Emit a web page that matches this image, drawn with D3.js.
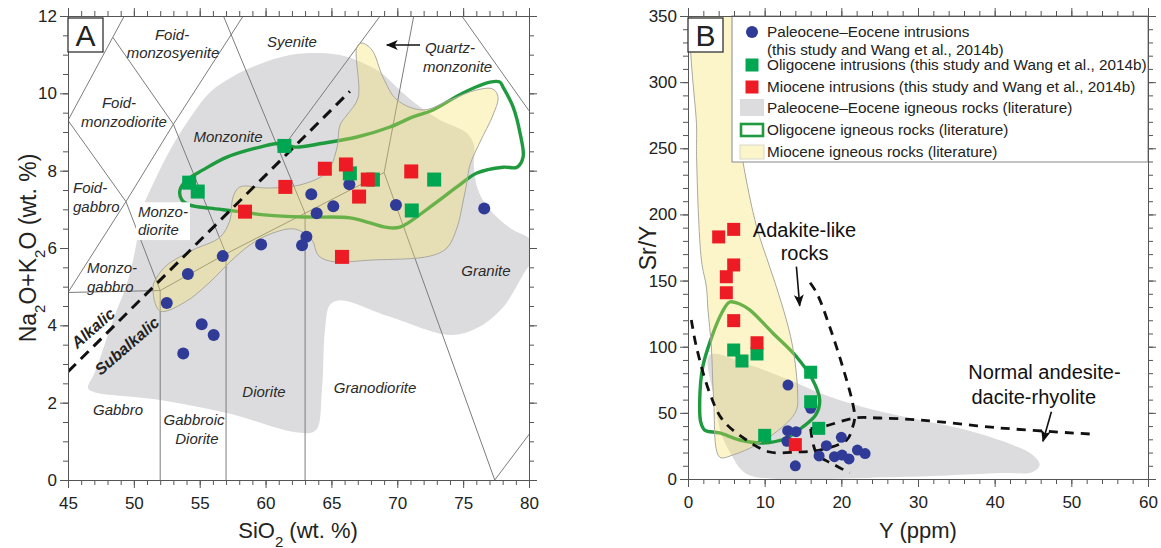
<!DOCTYPE html>
<html>
<head>
<meta charset="utf-8">
<script src="https://cdn.jsdelivr.net/npm/d3@7"></script>
<style>
body { margin: 0; background: #fff; }
svg { font-family: "Liberation Sans", Arial, sans-serif; }
</style>
</head>
<body>
<div id="chart"></div>
<script>
// ---------- panel A data (SiO2 vs Na2O+K2O, wt. %) ----------
var paleoA = [[52.5,4.58],[53.75,3.27],[54.1,5.33],[55.15,4.03],[56.06,3.75],[56.75,5.79],[59.66,6.09],
  [62.77,6.07],[63.1,6.29],[63.47,7.39],[63.88,6.9],[65.14,7.08],[66.36,7.65],[69.9,7.11],[76.6,7.02]]
var oligoA = [[54.2,7.69],[54.85,7.46],[61.43,8.64],[66.4,7.93],[68.15,7.77],[71.1,6.97],[72.8,7.77]]
var mioA = [[58.44,6.94],[61.5,7.58],[64.5,8.05],[65.8,5.77],[66.1,8.16],[67.1,7.33],[67.76,7.77],[71.06,7.98]]

// literature fields, panel A
var grayA = [[46.52,2.38],[47.05,2.79],[48.42,4.14],[49.56,5.17],[50.24,6.21],[50.47,6.85],[51.6,7.76],[52.74,8.53],
  [54.26,9.36],[55.78,10.03],[57.68,10.47],[59.58,10.76],[61.85,10.99],[64.13,11.04],[66.03,10.96],[67.55,10.76],
  [68.69,10.55],[70.43,10.01],[71.72,9.65],[73.24,9.31],[75.29,8.97],[75.82,8.66],[75.82,8.09],[76.13,7.5],
  [77.04,6.98],[78.56,6.52],[80,6.26],[80.45,6.08],[80.45,5.74],[79.77,5.43],[78.03,4.47],[76.05,3.93],[74.0,3.75],
  [69.45,4.22],[65.65,4.65],[64.89,4.53],[64.51,3.88],[64.28,2.33],[63.83,1.29],[62.61,1.22],[57.07,1.73],
  [51.98,2.07],[46.9,2.28]]
var yellowA = [[51.45,4.99],[51.76,5.25],[52.52,5.56],[54.49,5.95],[56.54,6.28],[57.3,6.72],[57.53,7.32],[58.06,7.58],
  [60.11,7.55],[62.61,7.63],[64.66,7.96],[65.42,8.59],[65.65,9.18],[66.18,9.44],[67.02,9.88],[66.94,11.2],[67.32,11.3],
  [68.08,11.12],[68.91,10.42],[69.98,9.83],[71.95,9.57],[74.0,9.83],[76.05,10.09],[77.27,10.11],[77.65,9.9],
  [77.27,9.44],[76.28,8.74],[75.52,8.15],[75.29,7.71],[74.99,7.19],[74.53,6.52],[73.77,6.0],[72.48,5.79],
  [68.16,5.69],[64.89,5.66],[63.98,5.82],[63.52,6.21],[62.23,6.49],[60.34,6.36],[58.82,6.08],[57.3,5.64],
  [55.78,5.12],[53.88,4.6],[51.98,4.37]]
var greenA = [[53.5,7.5],[53.65,7.24],[54.26,7.11],[55.78,7.03],[57.53,6.96],[60.11,6.85],[63.15,6.8],[66.41,6.78],
  [67.93,6.65],[69.07,6.54],[70.21,6.54],[72.48,7.06],[74.53,7.58],[76.05,7.94],[78.03,8.09],[79.09,8.09],
  [79.55,8.35],[79.32,8.97],[78.79,9.65],[78.03,10.16],[77.8,10.29],[77.04,10.29],[74.99,10.01],[72.71,9.57],
  [71.19,9.39],[69.45,9.13],[66.94,8.87],[64.36,8.71],[62.23,8.61],[61.1,8.71],[59.58,8.61],[57.07,8.35],
  [55.25,8.02],[54.03,7.76]]

// classification boundaries
var fieldLinesA = [
  [[52,0],[52,4.9]],
  [[57,0],[57,5.85]],
  [[63,0],[63,6.9]],
  [[45,4.85],[52,4.9],[57,5.85],[63,6.9],[69,7.95],[77.4,0],[81,1.63]],
  [[45,4.85],[49.4,7.2],[52,4.9]],
  [[45,9.3],[49.4,7.2],[53,9.2],[57,5.85]],
  [[45,9.3],[48.4,11.45],[49.27,12]],
  [[48.4,11.45],[53,9.2],[58.3,12]],
  [[63,6.9],[56.8,12]],
  [[61.1,8.5],[68.7,12]],
  [[69,7.95],[71.25,12]],
  [[74.9,12],[80,9.55]]
]
var alkalicLine = [[45,2.8],[66.4,10.05]]
var quartzArrow = [[71.73,11.25],[69.2,11.25]]

var fieldLabelsA = [
  ["Foid-",52.9,11.51,"middle"],["monzosyenite",52.97,11.04,"middle"],
  ["Syenite",62.0,11.33,"middle"],
  ["Quartz-",72.1,11.17,"start"],["monzonite",71.95,10.68,"start"],
  ["Foid-",48.87,9.75,"middle"],["monzodiorite",49.25,9.26,"middle"],
  ["Monzonite",57.15,8.87,"middle"],
  ["Foid-",45.38,7.55,"start"],["gabbro",45.38,7.06,"start"],
  ["Monzo-",50.31,6.93,"start"],["diorite",50.31,6.47,"start"],
  ["Monzo-",46.44,5.48,"start"],["gabbro",46.44,4.99,"start"],
  ["Gabbro",48.8,1.81,"middle"],
  ["Gabbroic",54.57,1.55,"middle"],["Diorite",54.79,1.06,"middle"],
  ["Diorite",59.88,2.28,"middle"],
  ["Granodiorite",68.31,2.38,"middle"],
  ["Granite",76.73,5.4,"middle"]
]
var seriesLabelsA = [["Alkalic",46.9,3.93],["Subalkalic",49.48,3.47]]

var xTicksA = [45,50,55,60,65,70,75,80]
var yTicksA = [0,2,4,6,8,10,12]

// ---------- panel B data (Y ppm vs Sr/Y) ----------
var paleoB = [[13.04,71],[16.0,53.4],[13.0,36.5],[14.1,35.8],[12.9,28.5],[14.0,10],[18.05,25.2],[20.0,31.5],
  [17.1,17.4],[19.1,16.9],[20.1,18.1],[21.0,15.2],[22.1,21.9],[23.1,19.2]]
var oligoB = [[5.96,97.5],[7.04,89.2],[9.0,94.5],[16.0,80.7],[16.0,58.4],[17.05,38.3],[10.0,33]]
var mioB = [[4.0,183],[5.96,188.7],[5.96,161.8],[5.0,152.9],[5.0,140.8],[5.96,119.7],[9.0,103],[14.0,26]]

var yellowB = [[1.1,360],[1.13,263.8],[1.13,241.1],[1.75,165.5],[2.4,145.1],[2.61,127.8],[3.05,99.8],[3.35,59.7],
  [4.13,16.6],[5.83,18.1],[9.35,27.2],[12.87,42.3],[14.15,52.2],[14.3,65],[13.66,99.8],[12.35,130],[10.66,160.3],
  [8.96,190.5],[7.13,241.1],[6.09,286.5],[5.2,360]]
var grayB = [[2.83,93.7],[8.05,86.2],[13.26,74.8],[17.18,65],[22.79,54.4],[30.22,44.6],[36.35,37],[42.35,25.7],
  [44.96,18.1],[45.87,10.6],[44.96,5.3],[40.66,4.5],[27.6,1.5],[8.31,2.3],[6.74,8.3],[5.83,16.6],[4.4,33.3],[3.48,59.7]]
var greenB = [[5.44,133.8],[6.74,132.3],[8.05,127.8],[11.05,110.4],[14.18,92.2],[16.27,74.8],[17.18,59.7],[16.66,48.4],
  [14.96,39.3],[12.87,31],[9.74,27.2],[6.74,29.5],[4.13,34.8],[2.18,37],[1.66,43.1],[1.53,59.7],[1.92,84.7],
  [3.09,107.3],[4.4,125.5]]

// discrimination fields (dashed)
var adakiteLine = [[0.44,120.2],[1.1,99.8],[2.83,65],[4.53,44.6],[7.62,29.5],[10.66,20.4],[14.18,20.4],[17.18,21.9],
  [20.7,29.5],[21.48,39.3],[21.74,46.1],[21.48,57.4],[20.18,84.7],[18.49,114.9],[16.79,140.6],[15.48,151.9]]
var adrUpper = [[16.0,38],[17.96,40.1],[21.74,46.1],[25,46.1],[30.22,44.6],[40.66,38.6],[52.4,34]]
var adrLower = [[16.0,38],[16.3,27],[16.92,18.1],[19.14,10.6],[21.09,4.5]]
var arrowsB = [[[14.14,160.5],[14.57,131]],[[47.4,50.9],[46.3,28.5]]]
var fieldLabelsB = [["Adakite-like",15.2,188.2],["rocks",15.2,170.8],
  ["Normal andesite-",46.5,80.9],["dacite-rhyolite",45.1,62]]

var xTicksB = [0,10,20,30,40,50,60]
var yTicksB = [0,50,100,150,200,250,300,350]

var legendItems = [
  ["circle", "Paleocene\u2013Eocene intrusions", "(this study and Wang et al., 2014b)"],
  ["green", "Oligocene intrusions (this study and Wang et al., 2014b)"],
  ["red", "Miocene intrusions (this study and Wang et al., 2014b)"],
  ["grayfield", "Paleocene\u2013Eocene igneous rocks (literature)"],
  ["greenfield", "Oligocene igneous rocks (literature)"],
  ["yellowfield", "Miocene igneous rocks (literature)"]
]

// ---------- styles ----------
var colBlue = "#2f3b96", colGreen = "#00a651", colRed = "#ed1c24"
var colGray = "#dcdcde", colYellow = "#f8e264", yellowOp = 0.34, colLine = "#1f9a3e"

width = 1161
height = 548
var svg = d3.select("#chart").append("svg").attr("width", width).attr("height", height)

var xA = d3.scaleLinear().domain([45, 80]).range([68, 529])
var yA = d3.scaleLinear().domain([0, 12]).range([480, 16])
var xB = d3.scaleLinear().domain([0, 60]).range([688, 1148])
var yB = d3.scaleLinear().domain([0, 350]).range([479, 16])

var defs = svg.append("defs")
function addClip(id, x, y) {
  defs.append("clipPath").attr("id", id).append("rect")
    .attr("x", x.range()[0]).attr("y", y.range()[1])
    .attr("width", x.range()[1] - x.range()[0]).attr("height", y.range()[0] - y.range()[1])
}
addClip("clipA", xA, yA)
addClip("clipB", xB, yB)
defs.append("marker").attr("id", "arrowhead").attr("viewBox", "0 0 12 10")
  .attr("refX", 11).attr("refY", 5).attr("markerWidth", 12).attr("markerHeight", 10)
  .attr("markerUnits", "userSpaceOnUse").attr("orient", "auto")
  .append("path").attr("d", "M0,0 L12,5 L0,10 L3,5 Z").attr("fill", "#111")

function closedPath(x, y) {
  return d3.line().x(d => x(d[0])).y(d => y(d[1])).curve(d3.curveCatmullRomClosed.alpha(0.5))
}
function openPath(x, y) {
  return d3.line().x(d => x(d[0])).y(d => y(d[1])).curve(d3.curveCatmullRom.alpha(0.5))
}
function straight(x, y) {
  return d3.line().x(d => x(d[0])).y(d => y(d[1]))
}

function drawAxes(x, y, xMaj, xStep, yMaj, yStep, pad) {
  var x0 = x.domain()[0], x1 = x.domain()[1], y0 = y.domain()[0], y1 = y.domain()[1]
  var xMin = d3.range(x0, x1 + 1e-9, xStep), yMin = d3.range(y0, y1 + 1e-9, yStep)
  var g = svg.append("g")
  var b = y.range()[0], t = y.range()[1], l = x.range()[0], r = x.range()[1]
  g.append("g").attr("transform", "translate(0," + b + ")").call(d3.axisBottom(x).tickValues(xMin).tickSize(5).tickFormat(""))
  g.append("g").attr("transform", "translate(0," + b + ")").call(d3.axisBottom(x).tickValues(xMaj).tickSize(8).tickPadding(9).tickFormat(d3.format("d")))
  g.append("g").attr("transform", "translate(0," + t + ")").call(d3.axisTop(x).tickValues(xMin).tickSize(5).tickFormat(""))
  g.append("g").attr("transform", "translate(0," + t + ")").call(d3.axisTop(x).tickValues(xMaj).tickSize(8).tickFormat(""))
  g.append("g").attr("transform", "translate(" + l + ",0)").call(d3.axisLeft(y).tickValues(yMin).tickSize(5).tickFormat(""))
  g.append("g").attr("transform", "translate(" + l + ",0)").call(d3.axisLeft(y).tickValues(yMaj).tickSize(8).tickPadding(pad).tickFormat(d3.format("d")))
  g.append("g").attr("transform", "translate(" + r + ",0)").call(d3.axisRight(y).tickValues(yMin).tickSize(5).tickFormat(""))
  g.append("g").attr("transform", "translate(" + r + ",0)").call(d3.axisRight(y).tickValues(yMaj).tickSize(8).tickFormat(""))
  g.selectAll(".domain").attr("stroke", "#555").attr("stroke-width", 1)
  g.selectAll(".tick line").attr("stroke", "#555").attr("stroke-width", 1)
  g.selectAll(".tick text").attr("font-size", 17).attr("fill", "#222")
    .attr("font-family", "'Liberation Sans', Arial, sans-serif")
}

function drawPoints(g, x, y, circles, greens, reds, sq, rad) {
  g.selectAll(null).data(circles).enter().append("circle")
    .attr("cx", d => x(d[0])).attr("cy", d => y(d[1])).attr("r", rad).attr("fill", colBlue)
  g.selectAll(null).data(greens).enter().append("rect")
    .attr("x", d => x(d[0]) - sq / 2).attr("y", d => y(d[1]) - sq / 2)
    .attr("width", sq).attr("height", sq).attr("fill", colGreen)
  g.selectAll(null).data(reds).enter().append("rect")
    .attr("x", d => x(d[0]) - sq / 2).attr("y", d => y(d[1]) - sq / 2)
    .attr("width", sq).attr("height", sq).attr("fill", colRed)
}

function panelTag(x, y, txt) {
  var l = x.range()[0], t = y.range()[1]
  svg.append("rect").attr("x", l).attr("y", t + 2).attr("width", 35).attr("height", 34)
    .attr("fill", "#fff").attr("stroke", "#333").attr("stroke-width", 1.3)
  svg.append("text").attr("x", l + 17.5).attr("y", t + 30).attr("text-anchor", "middle")
    .attr("font-size", 30).attr("fill", "#222").text(txt)
}

// ================= panel A =================
var gA = svg.append("g").attr("clip-path", "url(#clipA)")
gA.append("path").datum(grayA).attr("d", closedPath(xA, yA)).attr("fill", colGray)
gA.selectAll(null).data(fieldLinesA).enter().append("path")
  .attr("d", straight(xA, yA)).attr("fill", "none").attr("stroke", "#7c7c7c").attr("stroke-width", 1)
gA.append("path").datum(greenA).attr("d", closedPath(xA, yA)).attr("fill", "none")
  .attr("stroke", colLine).attr("stroke-width", 3.4)
gA.append("path").datum(yellowA).attr("d", closedPath(xA, yA)).attr("fill", colYellow)
  .attr("fill-opacity", yellowOp).attr("stroke", "#a9a9a0").attr("stroke-width", 1)
gA.append("path").datum(alkalicLine).attr("d", straight(xA, yA)).attr("fill", "none")
  .attr("stroke", "#111").attr("stroke-width", 3).attr("stroke-dasharray", "11,7")

var labA = gA.append("g").attr("font-style", "italic").attr("font-size", 15).attr("fill", "#2a2a2a")
fieldLabelsA.forEach(function (d) {
  var t = labA.append("text").attr("x", xA(d[1])).attr("y", yA(d[2])).attr("dy", "0.35em")
    .attr("text-anchor", d[3]).text(d[0])
  if (d[0] == "Monzo-" && d[1] > 50) t.attr("class", "boxed")
  if (d[0] == "diorite" && d[1] > 50) t.attr("class", "boxed")
})
// white patch behind the Monzodiorite label
var bb = null
labA.selectAll(".boxed").each(function () {
  var b = this.getBBox()
  if (!bb) bb = { x0: b.x, y0: b.y, x1: b.x + b.width, y1: b.y + b.height }
  else { bb.x0 = Math.min(bb.x0, b.x); bb.y0 = Math.min(bb.y0, b.y); bb.x1 = Math.max(bb.x1, b.x + b.width); bb.y1 = Math.max(bb.y1, b.y + b.height) }
})
labA.insert("rect", ":first-child").attr("x", bb.x0 - 2).attr("y", bb.y0 - 1)
  .attr("width", bb.x1 - bb.x0 + 4).attr("height", bb.y1 - bb.y0 + 3).attr("fill", "#fff")

seriesLabelsA.forEach(function (d) {
  gA.append("text").attr("transform", "translate(" + xA(d[1]) + "," + yA(d[2]) + ") rotate(-41)")
    .attr("text-anchor", "middle").attr("dy", "0.35em").attr("font-size", 16)
    .attr("font-weight", "bold").attr("font-style", "italic").attr("fill", "#222").text(d[0])
})
gA.append("path").datum(quartzArrow).attr("d", straight(xA, yA)).attr("stroke", "#111")
  .attr("stroke-width", 1.6).attr("marker-end", "url(#arrowhead)")

drawPoints(gA, xA, yA, paleoA, oligoA, mioA, 14, 6)
drawAxes(xA, yA, xTicksA, 1, yTicksA, 0.5, 3)
panelTag(xA, yA, "A")

var xtA = svg.append("text").attr("x", 298).attr("y", 538).attr("text-anchor", "middle")
  .attr("font-size", 22).attr("fill", "#222")
xtA.append("tspan").text("SiO")
xtA.append("tspan").attr("font-size", 15).attr("baseline-shift", "sub").text("2")
xtA.append("tspan").text(" (wt. %)")

var ytA = svg.append("text").attr("transform", "translate(36,248) rotate(-90)")
  .attr("text-anchor", "middle").attr("font-size", 23).attr("fill", "#222")
ytA.append("tspan").text("Na")
ytA.append("tspan").attr("font-size", 15).attr("baseline-shift", "sub").text("2")
ytA.append("tspan").text("O+K")
ytA.append("tspan").attr("font-size", 15).attr("baseline-shift", "sub").text("2")
ytA.append("tspan").text("O (wt. %)")

// ================= panel B =================
var gB = svg.append("g").attr("clip-path", "url(#clipB)")
gB.append("path").datum(grayB).attr("d", closedPath(xB, yB)).attr("fill", colGray)
gB.append("path").datum(greenB).attr("d", closedPath(xB, yB)).attr("fill", "none")
  .attr("stroke", colLine).attr("stroke-width", 3.4)
gB.append("path").datum(yellowB).attr("d", closedPath(xB, yB)).attr("fill", colYellow)
  .attr("fill-opacity", yellowOp).attr("stroke", "#a9a9a0").attr("stroke-width", 1)
;[adakiteLine, adrUpper, adrLower].forEach(function (d) {
  gB.append("path").datum(d).attr("d", openPath(xB, yB)).attr("fill", "none")
    .attr("stroke", "#111").attr("stroke-width", 2.8).attr("stroke-dasharray", "9,7")
})
arrowsB.forEach(function (d) {
  gB.append("path").datum(d).attr("d", straight(xB, yB)).attr("stroke", "#111")
    .attr("stroke-width", 1.6).attr("marker-end", "url(#arrowhead)")
})
fieldLabelsB.forEach(function (d) {
  gB.append("text").attr("x", xB(d[1])).attr("y", yB(d[2])).attr("dy", "0.35em")
    .attr("text-anchor", "middle").attr("font-size", 20).attr("fill", "#111").text(d[0])
})
drawPoints(gB, xB, yB, paleoB, oligoB, mioB, 13, 5.5)

// legend
var lg = svg.append("g").attr("transform", "translate(732,16)")
lg.append("rect").attr("width", 416).attr("height", 146).attr("fill", "#fff").attr("stroke", "#888").attr("stroke-width", 1)
var rowY = [16, 49, 71, 92, 114, 136]
legendItems.forEach(function (d, i) {
  var yy = rowY[i]
  if (d[0] == "circle") lg.append("circle").attr("cx", 20).attr("cy", yy).attr("r", 6).attr("fill", colBlue)
  if (d[0] == "green") lg.append("rect").attr("x", 13.5).attr("y", yy - 6.5).attr("width", 13).attr("height", 13).attr("fill", colGreen)
  if (d[0] == "red") lg.append("rect").attr("x", 13.5).attr("y", yy - 6.5).attr("width", 13).attr("height", 13).attr("fill", colRed)
  if (d[0] == "grayfield") lg.append("rect").attr("x", 8).attr("y", yy - 9).attr("width", 24).attr("height", 17).attr("fill", colGray)
  if (d[0] == "greenfield") lg.append("rect").attr("x", 9).attr("y", yy - 6).attr("width", 22).attr("height", 12)
    .attr("fill", "#fff").attr("stroke", colLine).attr("stroke-width", 2.6)
  if (d[0] == "yellowfield") lg.append("rect").attr("x", 8).attr("y", yy - 7).attr("width", 24).attr("height", 14)
    .attr("fill", colYellow).attr("fill-opacity", yellowOp).attr("stroke", "#d8d8cc").attr("stroke-width", 1)
  lg.append("text").attr("x", 35).attr("y", yy).attr("dy", "0.35em").attr("font-size", 15.3).attr("fill", "#222").text(d[1])
  if (d[2]) lg.append("text").attr("x", 35).attr("y", yy + 18).attr("dy", "0.35em").attr("font-size", 15.3).attr("fill", "#222").text(d[2])
})

drawAxes(xB, yB, xTicksB, 2, yTicksB, 10, 3)
panelTag(xB, yB, "B")

svg.append("text").attr("x", 918).attr("y", 538).attr("text-anchor", "middle")
  .attr("font-size", 22).attr("fill", "#222").text("Y (ppm)")
svg.append("text").attr("transform", "translate(656,248) rotate(-90)")
  .attr("text-anchor", "middle").attr("font-size", 23).attr("fill", "#222").text("Sr/Y")
</script>
</body>
</html>
